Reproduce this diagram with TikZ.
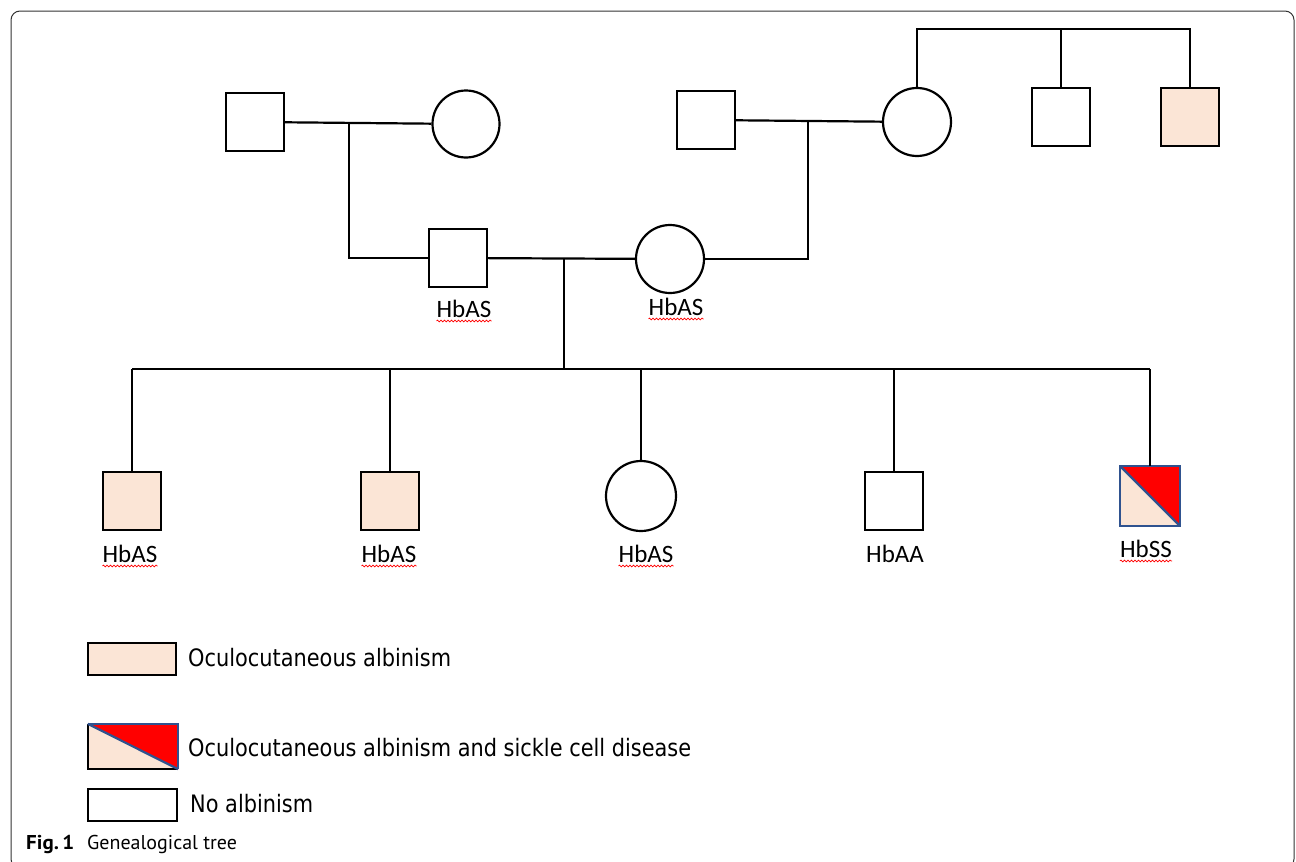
\documentclass[tikz,border=0pt]{standalone}
\usepackage{fontspec}
\setmainfont{Carlito}
\newfontfamily\legf{DejaVu Sans}[FakeStretch=0.87]
\newfontfamily\capf{PT Sans}
\usetikzlibrary{decorations.pathmorphing}
\definecolor{peach}{HTML}{FBE5D6}
\definecolor{oblue}{HTML}{2F528F}
\definecolor{frame}{HTML}{333333}
\tikzset{
  ln/.style={line width=2.2pt, black},
  male/.style={draw=black, line width=2.2pt, rectangle, minimum size=58pt, inner sep=0pt},
  female/.style={draw=black, line width=2.2pt, circle, minimum size=68pt, inner sep=0pt},
  aff/.style={fill=peach},
  lbl/.style={font=\fontsize{25}{30}\selectfont, inner sep=0pt},
  wavy/.style={draw=red, line width=0.7pt, decorate, decoration={snake, amplitude=0.9pt, segment length=3.5pt}},
  legtext/.style={font=\legf\fontsize{24}{28}\selectfont, anchor=base west, inner sep=0pt},
  legbox/.style={draw=black, line width=2.2pt, rectangle, inner sep=0pt}
}
\begin{document}
\begin{tikzpicture}[x=1pt,y=-1pt]
\path[use as bounding box] (0,0) rectangle (1296,862);
\begin{scope}
\clip (0,0) rectangle (1296,862);
\draw[frame, line width=1pt, rounded corners=9pt] (11,11) rectangle (1294,868);
\end{scope}

% generation I
\node[male] (A) at (255,122) {};
\node[female, minimum size=67pt] (B) at (466,124) {};
\node[male] (D) at (706,120) {};
\node[female] (E) at (917,122) {};
\node[male] (F) at (1061,117) {};
\node[male, aff] (H) at (1190,117) {};
\coordinate (top) at (1061,29);

% generation II
\node[male] (C) at (458,258) {};
\node[female] (G) at (670,259) {};

% generation III
\node[male, aff] (k1) at (132,501) {};
\node[male, aff] (k2) at (390,501) {};
\node[female, minimum size=70pt] (k3) at (641,496) {};
\node[male] (k4) at (894,501) {};
\node[rectangle, minimum size=59pt, inner sep=0pt, fill=peach] (k5) at (1150,496) {};
\fill[red] (k5.north west) -- (k5.north east) -- (k5.south east) -- cycle;
\draw[oblue, line width=2.2pt] (k5.north west) rectangle (k5.south east);
\draw[oblue, line width=2.2pt] (k5.north west) -- (k5.south east);

% connectors
\coordinate (mAB) at (349,123);
\draw[ln] (A) -- (B);
\draw[ln] (mAB) |- (C.west);
\coordinate (mDE) at (808,121);
\draw[ln] (D) -- (E);
\draw[ln] (mDE) |- (G.east);
\draw[ln] (E.north) |- (H.north |- top) -- (H.north);
\draw[ln] (F.north) -- (top);
\coordinate (mCG) at (564,258);
\coordinate (sib) at (564,369);
\draw[ln] (C) -- (G);
\draw[ln] (mCG) -- (sib);
\draw[ln] (k1.north |- sib) -- (k5.north |- sib);
\foreach \k in {k1,k2,k3,k4,k5} {\draw[ln] (\k.north) -- (\k.north |- sib);}

% labels
\node[lbl] (lC) at (464,309) {HbAS};
\node[lbl] (lG) at (676,307) {HbAS};
\node[lbl] (l1) at (130,554) {HbAS};
\node[lbl] (l2) at (389,554) {HbAS};
\node[lbl] (l3) at (646,554) {HbAS};
\node[lbl] (l4) at (895,554) {HbAA};
\node[lbl] (l5) at (1146,549) {HbSS};
\foreach \l in {lC,lG,l1,l2,l3,l5} {\draw[wavy] ([yshift=-3pt]\l.south west) -- ([yshift=-3pt]\l.south east);}

% legend
\node[legbox, aff, minimum width=88pt, minimum height=32pt] (L1) at (132,659) {};
\node[legtext] (T1) at (188,666) {Oculocutaneous albinism};
\node[rectangle, inner sep=0pt, fill=peach, minimum width=90pt, minimum height=45pt] (L2) at (133,746.5) {};
\fill[red] (L2.north west) -- (L2.north east) -- (L2.south east) -- cycle;
\draw[black, line width=2.2pt] (L2.north west) -- (L2.south west) -- (L2.south east);
\draw[oblue, line width=2.2pt] (L2.north west) -- (L2.north east) -- (L2.south east);
\draw[oblue, line width=2.2pt] (L2.north west) -- (L2.south east);
\node[legtext] (T2) at (188,756) {Oculocutaneous albinism and sickle cell disease};
\node[legbox, minimum width=89pt, minimum height=32pt] (L3) at (132.5,805) {};
\node[legtext] (T3) at (190,812) {No albinism};

% caption
\node[font=\capf\bfseries\fontsize{20}{24}\selectfont, anchor=base west, inner sep=0pt] (fig) at (26,849) {\scalebox{1.05}[1]{Fig.\,1}};
\node[font=\capf\fontsize{20}{24}\selectfont, anchor=base west, inner sep=0pt] (cap) at (87,849) {Genealogical tree};
\end{tikzpicture}
\end{document}
